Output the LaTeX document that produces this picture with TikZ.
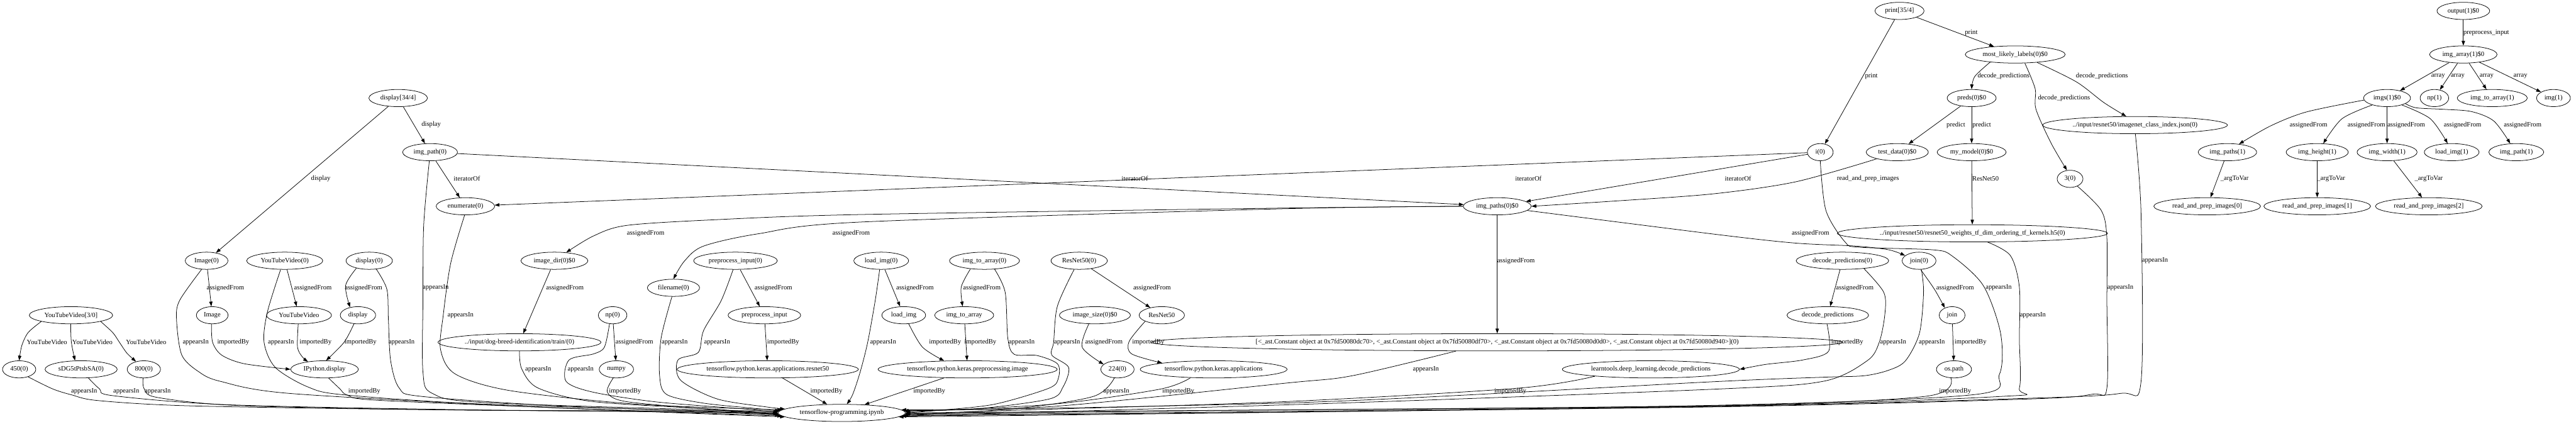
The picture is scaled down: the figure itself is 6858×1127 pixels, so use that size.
\documentclass[tikz,border=0pt]{standalone}
\usepackage{fontspec}
\setmainfont{Liberation Serif}
\usetikzlibrary{shapes.geometric,arrows.meta}
\begin{document}
\begin{tikzpicture}[x=0.787pt,y=-0.787pt,>={Triangle[length=10pt,width=7pt]},
    font=\fontsize{14}{16}\selectfont]
    \tikzset{
        gn/.style={draw,ellipse,line width=1pt,inner xsep=6pt,inner ysep=3pt,
            minimum height=36pt,minimum width=54pt},
        conn/.style={->,line width=1pt},
        lbl/.style={inner sep=1pt}
    }
    \useasboundingbox (0,0) rectangle (6858,1127);

    % left part
    \node[gn] (ytv30) at (189,839) {YouTubeVideo[3/0]};
    \node[gn] (n450) at (51,983) {450(0)};
    \node[gn] (sdg) at (216,983) {sDG5tPtsbSA(0)};
    \node[gn] (n800) at (383,983) {800(0)};
    \node[gn] (disp34) at (1060,261) {display[34/4]};
    \node[gn] (imgpath0) at (1145,405) {img\_path(0)};
    \node[gn] (enum0) at (1239,549) {enumerate(0)};
    \node[gn] (image0) at (550,694) {Image(0)};
    \node[gn] (ytv0) at (758,694) {YouTubeVideo(0)};
    \node[gn] (display0) at (983,694) {display(0)};
    \node[gn] (imagecls) at (565,839) {Image};
    \node[gn] (ytvcls) at (796,839) {YouTubeVideo};
    \node[gn] (dispcls) at (953,839) {display};
    \node[gn] (ipydisp) at (864,983) {IPython.display};
    \node[gn] (imgdir0) at (1476,694) {image\_dir(0)\$0};
    \node[gn] (trainpath) at (1383,911) {../input/dog-breed-identification/train/(0)};
    \node[gn] (np0) at (1631,839) {np(0)};
    \node[gn] (numpy) at (1641,983) {numpy};
    \node[gn] (fname0) at (1793,766) {filename(0)};
    \node[gn] (ppin0) at (1958,694) {preprocess\_input(0)};
    \node[gn] (ppin) at (2035,839) {preprocess\_input};
    \node[gn] (kresnet) at (2044,983) {tensorflow.python.keras.applications.resnet50};
    \node[gn] (nb) at (2241,1099) {tensorflow-programming.ipynb};

    % middle part
    \node[gn] (loadimg0) at (2346,694) {load\_img(0)};
    \node[gn] (img2arr0) at (2621,694) {img\_to\_array(0)};
    \node[gn] (resnet0) at (2873,694) {ResNet50(0)};
    \node[gn] (loadimg) at (2406,839) {load\_img};
    \node[gn] (img2arr) at (2567,839) {img\_to\_array};
    \node[gn] (imgsize0) at (2915,839) {image\_size(0)\$0};
    \node[gn] (resnetcls) at (3093,839) {ResNet50};
    \node[gn] (kprep) at (2576,983) {tensorflow.python.keras.preprocessing.image};
    \node[gn] (n224) at (2975,983) {224(0)};
    \node[gn] (kapps) at (3231,983) {tensorflow.python.keras.applications};
    \node[gn] (imgpaths0) at (3986,549) {img\_paths(0)\$0};
    \node[gn] (astlist) at (3986,911) {[<\_ast.Constant object at 0x7fd50080dc70>, <\_ast.Constant object at 0x7fd50080df70>, <\_ast.Constant object at 0x7fd50080d0d0>, <\_ast.Constant object at 0x7fd50080d940>](0)};
    \node[gn] (learn) at (4395,983) {learntools.deep\_learning.decode\_predictions};

    % right part
    \node[gn] (print35) at (5057,29) {print[35/4]};
    \node[gn] (mll) at (5365,145) {most\_likely\_labels(0)\$0};
    \node[gn] (preds0) at (5249,261) {preds(0)\$0};
    \node[gn] (i0) at (4846,405) {i(0)};
    \node[gn] (testdata0) at (5051,405) {test\_data(0)\$0};
    \node[gn] (mymodel0) at (5249,405) {my\_model(0)\$0};
    \node[gn] (n3) at (5511,476) {3(0)};
    \node[gn] (jsonpath) at (5684,333) {../input/resnet50/imagenet\_class\_index.json(0)};
    \node[gn] (h5path) at (5251,621) {../input/resnet50/resnet50\_weights\_tf\_dim\_ordering\_tf\_kernels.h5(0)};
    \node[gn] (decpred0) at (4905,694) {decode\_predictions(0)};
    \node[gn] (join0) at (5109,694) {join(0)};
    \node[gn] (decpred) at (4866,839) {decode\_predictions};
    \node[gn] (joincls) at (5197,839) {join};
    \node[gn] (ospath) at (5202,983) {os.path};

    \node[gn] (output1) at (6558,29) {output(1)\$0};
    \node[gn] (imgarray1) at (6558,145) {img\_array(1)\$0};
    \node[gn] (imgs1) at (6355,261) {imgs(1)\$0};
    \node[gn] (np1) at (6481,261) {np(1)};
    \node[gn] (imgtoarr1) at (6635,261) {img\_to\_array(1)};
    \node[gn] (img1) at (6798,261) {img(1)};
    \node[gn] (imgpaths1) at (5930,405) {img\_paths(1)};
    \node[gn] (imgheight1) at (6169,405) {img\_height(1)};
    \node[gn] (imgwidth1) at (6355,405) {img\_width(1)};
    \node[gn] (loadimg1) at (6527,405) {load\_img(1)};
    \node[gn] (imgpath1) at (6699,405) {img\_path(1)};
    \node[gn] (rpi0) at (5876,549) {read\_and\_prep\_images[0]};
    \node[gn] (rpi1) at (6169,549) {read\_and\_prep\_images[1]};
    \node[gn] (rpi2) at (6466,549) {read\_and\_prep\_images[2]};

    % connectors, left part
    \draw[conn] plot[smooth] coordinates {(ytv30.south west) (75,885) (58,920) (n450.north)}
        node[lbl] at (125,911) {YouTubeVideo};
    \draw[conn] plot[smooth] coordinates {(ytv30.-92) (190,911) (sdg.125)}
        node[lbl] at (246,911) {YouTubeVideo};
    \draw[conn] plot[smooth] coordinates {(ytv30.south east) (300,885) (318,911) (338,940) (n800.135)}
        node[lbl] at (389,911) {YouTubeVideo};
    \draw[conn] plot[smooth] coordinates {(n450.-40) (140,1035) (191,1051) (260,1066) (500,1080) (1100,1090) (1800,1096) (nb.west)}
        node[lbl] at (224,1042) {appearsIn};
    \draw[conn] plot[smooth] coordinates {(sdg.-50) (265,1035) (300,1053) (600,1077) (1200,1090) (1850,1097) (nb.182)}
        node[lbl] at (336,1042) {appearsIn};
    \draw[conn] plot[smooth] coordinates {(n800.-95) (384,1035) (420,1058) (650,1080) (1300,1092) (nb.178)}
        node[lbl] at (420,1042) {appearsIn};
    \draw[conn] (image0) -- (imagecls) node[lbl] at (600,766) {assignedFrom};
    \draw[conn] plot[smooth] coordinates {(image0.-120) (478,800) (470,851) (484,945) (530,990) (587,1015) (770,1047) (1400,1082) (nb.184)}
        node[lbl] at (521,911) {appearsIn};
    \draw[conn] plot[smooth] coordinates {(imagecls.-95) (566,911) (590,945) (650,968) (ipydisp.west)}
        node[lbl] at (621,911) {importedBy};
    \draw[conn] (ytv0) -- (ytvcls) node[lbl] at (833,766) {assignedFrom};
    \draw[conn] plot[smooth] coordinates {(ytv0.-115) (712,830) (703,911) (733,978) (820,1030) (917,1051) (1300,1076) (nb.180)}
        node[lbl] at (748,911) {appearsIn};
    \draw[conn] plot[smooth] coordinates {(ytvcls.-95) (792,924) (805,950) (ipydisp.155)}
        node[lbl] at (840,911) {importedBy};
    \draw[conn] plot[smooth] coordinates {(dispcls.-115) (916,911) (ipydisp.80)}
        node[lbl] at (960,911) {importedBy};
    \draw[conn] plot[smooth] coordinates {(display0.-150) (920,760) (dispcls.135)}
        node[lbl] at (968,766) {assignedFrom};
    \draw[conn] plot[smooth] coordinates {(display0.-50) (1030,770) (1034,850) (1040,960) (1063,1033) (1122,1055) (1500,1081) (nb.181)}
        node[lbl] at (1069,911) {appearsIn};
    \draw[conn] plot[smooth] coordinates {(ipydisp.-65) (905,1035) (924,1051) (1000,1065) (1500,1086) (nb.183)}
        node[lbl] at (970,1042) {importedBy};
    \draw[conn] (disp34) -- (image0) node[lbl] at (854,476) {display};
    \draw[conn] (disp34) -- (imgpath0) node[lbl] at (1148,332) {display};
    \draw[conn] (imgpath0) -- (enum0) node[lbl] at (1243,476) {iteratorOf};
    \draw[conn] plot[smooth] coordinates {(imgpath0.-95) (1128,600) (1126,800) (1126,990) (1151,1047) (1300,1072) (nb.179)}
        node[lbl] at (1160,766) {appearsIn};
    \draw[conn] (imgpath0) -- (imgpaths0) node[lbl] at (3021,476) {iteratorOf};
    \draw[conn] (i0) -- (enum0) node[lbl] at (4069,476) {iteratorOf};
    \draw[conn] (i0) -- (imgpaths0) node[lbl] at (4627,476) {iteratorOf};
    \draw[conn] plot[smooth] coordinates {(enum0.-95) (1200,700) (1180,839) (1173,931) (1213,996) (1360,1040) (1700,1076) (nb.177)}
        node[lbl] at (1226,839) {appearsIn};
    \draw[conn] plot[smooth] coordinates {(testdata0.-162) (4780,484) (4560,516) (4300,535) (imgpaths0.east)}
        node[lbl] at (4973,476) {read\_and\_prep\_images};
    \draw[conn] plot[smooth] coordinates {(imgpaths0.west) (3400,554) (2290,571) (1900,585) (1668,600) (1580,628) (imgdir0.35)}
        node[lbl] at (1719,621) {assignedFrom};
    \draw[conn] plot[smooth] coordinates {(imgpaths0.west) (3400,556) (2290,591) (2020,622) (1873,655) (1822,695) (fname0.north)}
        node[lbl] at (2266,621) {assignedFrom};
    \draw[conn] (imgdir0) -- (trainpath) node[lbl] at (1504,766) {assignedFrom};
    \draw[conn] plot[smooth] coordinates {(trainpath.south) (1389,982) (1433,1033) (1580,1069) (1900,1089) (nb.181)}
        node[lbl] at (1433,983) {appearsIn};
    \draw[conn] (np0) -- (numpy) node[lbl] at (1689,911) {assignedFrom};
    \draw[conn] plot[smooth] coordinates {(np0.-110) (1609,924) (1580,942) (1515,958) (1507,1015) (1580,1044) (1750,1070) (2000,1090) (nb.180)}
        node[lbl] at (1546,983) {appearsIn};
    \draw[conn] plot[smooth] coordinates {(numpy.-110) (1617,1044) (1668,1069) (1900,1090) (nb.182)}
        node[lbl] at (1664,1042) {importedBy};
    \draw[conn] plot[smooth] coordinates {(fname0.-100) (1760,900) (1756,1000) (1775,1050) (1873,1073) (2000,1086) (nb.178)}
        node[lbl] at (1796,911) {appearsIn};
    \draw[conn] (ppin0) -- (ppin) node[lbl] at (2059,766) {assignedFrom};
    \draw[conn] plot[smooth] coordinates {(ppin0.-105) (1920,800) (1873,880) (1859,938) (1805,958) (1812,1012) (1910,1062) (2040,1083) (nb.176)}
        node[lbl] at (1909,911) {appearsIn};
    \draw[conn] (ppin) -- (kresnet) node[lbl] at (2085,911) {importedBy};
    \draw[conn] (kresnet) -- (nb) node[lbl] at (2200,1042) {importedBy};

    % connectors, middle part
    \draw[conn] plot[smooth] coordinates {(loadimg0.-100) (2330,800) (2310,911) (2290,990) (2270,1050) (nb.60)}
        node[lbl] at (2351,911) {appearsIn};
    \draw[conn] (loadimg0) -- (loadimg) node[lbl] at (2436,766) {assignedFrom};
    \draw[conn] plot[smooth] coordinates {(loadimg.-60) (2456,924) (kprep.160)}
        node[lbl] at (2516,911) {importedBy};
    \draw[conn] plot[smooth] coordinates {(img2arr0.-150) (2559,764) (img2arr.100)}
        node[lbl] at (2614,766) {assignedFrom};
    \draw[conn] (img2arr) -- (kprep) node[lbl] at (2610,911) {importedBy};
    \draw[conn] plot[smooth] coordinates {(img2arr0.-40) (2676,778) (2683,900) (2700,943) (2760,946) (2815,968) (2818,1005) (2793,1033) (2647,1076) (2500,1092) (nb.east)}
        node[lbl] at (2720,911) {appearsIn};
    \draw[conn] (resnet0) -- (resnetcls) node[lbl] at (3067,766) {assignedFrom};
    \draw[conn] plot[smooth] coordinates {(resnet0.-120) (2815,815) (2805,911) (2800,945) (2845,978) (2830,1030) (2793,1062) (2600,1088) (nb.2)}
        node[lbl] at (2841,911) {appearsIn};
    \draw[conn] plot[smooth] coordinates {(imgsize0.-125) (2881,924) (n224.160)}
        node[lbl] at (2939,911) {assignedFrom};
    \draw[conn] plot[smooth] coordinates {(n224.-110) (2911,1055) (2700,1088) (nb.-2)}
        node[lbl] at (2972,1042) {appearsIn};
    \draw[conn] plot[smooth] coordinates {(resnetcls.-160) (3006,909) (3013,942) (kapps.173)}
        node[lbl] at (3057,911) {importedBy};
    \draw[conn] plot[smooth] coordinates {(kapps.-160) (3087,1036) (2800,1076) (nb.1)}
        node[lbl] at (3137,1042) {importedBy};
    \draw[conn] (kprep.-160) -- (nb.20) node[lbl] at (2474,1042) {importedBy};
    \draw[conn] (imgpaths0) -- (astlist) node[lbl] at (4036,694) {assignedFrom};
    \draw[conn] plot[smooth] coordinates {(astlist.-168) (3600,1000) (3420,1020) (2800,1082) (nb.3)}
        node[lbl] at (3796,983) {appearsIn};
    \draw[conn] plot[smooth] coordinates {(learn.-173) (4043,1033) (3420,1069) (2700,1092) (nb.-1)}
        node[lbl] at (4021,1042) {importedBy};
    \draw[conn] plot[smooth] coordinates {(decpred.-95) (4868,935) (4800,958) (4700,970) (learn.east)}
        node[lbl] at (4918,911) {importedBy};

    % connectors, right part
    \draw[conn] plot[smooth] coordinates {(imgpaths0.-8) (4570,624) (4780,647) (4941,655) (5029,665) (join0.160)}
        node[lbl] at (4820,621) {assignedFrom};
    \draw[conn] plot[smooth] coordinates {(i0.south) (4861,560) (4912,644) (4950,658) (5147,665) (5198,682) (5280,760) (5326,887) (5323,996) (5249,1051) (4500,1080) (3000,1094) (nb.east)}
        node[lbl] at (5321,766) {appearsIn};
    \draw[conn] (decpred0) -- (decpred) node[lbl] at (4938,766) {assignedFrom};
    \draw[conn] plot[smooth] coordinates {(decpred0.-20) (5015,778) (5018,836) (5003,911) (4971,960) (4853,1015) (4560,1036) (3500,1075) (nb.-3)}
        node[lbl] at (5040,911) {appearsIn};
    \draw[conn] plot[smooth] coordinates {(join0.-80) (5150,770) (joincls.135)}
        node[lbl] at (5205,766) {assignedFrom};
    \draw[conn] plot[smooth] coordinates {(join0.-75) (5121,778) (5110,887) (5073,960) (5029,985) (4963,1000) (4853,1004) (4560,1016) (3500,1070) (nb.2)}
        node[lbl] at (5143,911) {appearsIn};
    \draw[conn] (joincls) -- (ospath) node[lbl] at (5246,911) {importedBy};
    \draw[conn] plot[smooth] coordinates {(ospath.-110) (5125,1055) (4560,1080) (3200,1093) (nb.-1)}
        node[lbl] at (5205,1042) {importedBy};
    \draw[conn] plot[smooth] coordinates {(h5path.-30) (5352,680) (5376,764) (5376,900) (5376,1033) (5330,1055) (4500,1082) (nb.-2)}
        node[lbl] at (5412,839) {appearsIn};
    \draw[conn] plot[smooth] coordinates {(n3.-45) (5594,560) (5609,633) (5609,800) (5609,1033) (5572,1049) (5400,1062) (4500,1084) (nb.-3)}
        node[lbl] at (5645,766) {appearsIn};
    \draw[conn] plot[smooth] coordinates {(jsonpath.-88) (5700,570) (5700,1015) (5645,1047) (5400,1060) (4500,1083) (nb.-4)}
        node[lbl] at (5737,694) {appearsIn};
    \draw[conn] (print35) -- (mll) node[lbl] at (5248,87) {print};
    \draw[conn] (print35) -- (i0) node[lbl] at (4982,203) {print};
    \draw[conn] plot[smooth] coordinates {(mll.-163) (5257,204) (preds0.north)}
        node[lbl] at (5334,203) {decode\_predictions};
    \draw[conn] plot[smooth] coordinates {(mll.-42) (5418,236) (5420,290) (5460,380) (n3.110)}
        node[lbl] at (5495,261) {decode\_predictions};
    \draw[conn] plot[smooth] coordinates {(mll.-20) (5528,218) (5601,273) (jsonpath.135)}
        node[lbl] at (5596,203) {decode\_predictions};
    \draw[conn] (preds0) -- (testdata0) node[lbl] at (5207,333) {predict};
    \draw[conn] (preds0) -- (mymodel0) node[lbl] at (5276,333) {predict};
    \draw[conn] (mymodel0) -- (h5path) node[lbl] at (5286,476) {ResNet50};

    \draw[conn] (output1) -- (imgarray1) node[lbl] at (6619,87) {preprocess\_input};
    \draw[conn] (imgarray1) -- (imgs1) node[lbl] at (6491,203) {array};
    \draw[conn] (imgarray1) -- (np1) node[lbl] at (6543,203) {array};
    \draw[conn] (imgarray1) -- (imgtoarr1) node[lbl] at (6620,203) {array};
    \draw[conn] (imgarray1) -- (img1) node[lbl] at (6710,203) {array};
    \draw[conn] plot[smooth] coordinates {(imgs1.-175) (6140,298) (6045,335) (imgpaths1.35)}
        node[lbl] at (6146,333) {assignedFrom};
    \draw[conn] plot[smooth] coordinates {(imgs1.-155) (6235,316) (imgheight1.55)}
        node[lbl] at (6300,333) {assignedFrom};
    \draw[conn] (imgs1) -- (imgwidth1) node[lbl] at (6406,333) {assignedFrom};
    \draw[conn] plot[smooth] coordinates {(imgs1.-25) (6470,316) (loadimg1.115)}
        node[lbl] at (6556,333) {assignedFrom};
    \draw[conn] plot[smooth] coordinates {(imgs1.-17) (6433,287) (6507,291) (6580,297) (6639,322) (imgpath1.125)}
        node[lbl] at (6716,333) {assignedFrom};
    \draw[conn] (imgpaths1) -- (rpi0) node[lbl] at (5949,476) {\_argToVar};
    \draw[conn] (imgheight1) -- (rpi1) node[lbl] at (6206,476) {\_argToVar};
    \draw[conn] (imgwidth1) -- (rpi2) node[lbl] at (6466,476) {\_argToVar};
\end{tikzpicture}
\end{document}
